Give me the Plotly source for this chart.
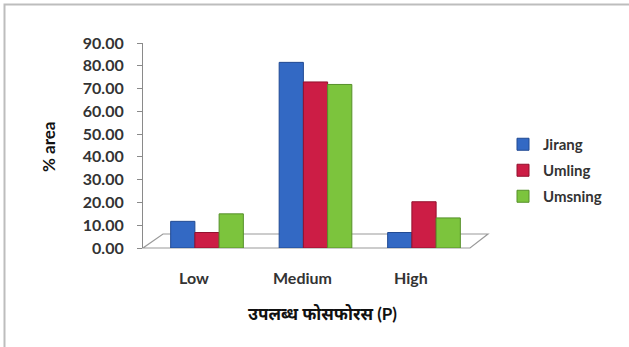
import plotly.graph_objects as go

# Available phosphorus classes and share of area (%) per site
categories = ["Low", "Medium", "High"]
jirang = [11.7, 81.5, 6.8]
umling = [6.8, 72.9, 20.3]
umsning = [15.0, 71.8, 13.2]

series = [
    ("Jirang", jirang, "#3369C4", "#214A93"),
    ("Umling", umling, "#CC1D45", "#93112E"),
    ("Umsning", umsning, "#7CC43D", "#56902A"),
]

y_ticks = [0, 10, 20, 30, 40, 50, 60, 70, 80, 90]
x_title = "उपलब्ध फोसफोरस (P)"
y_title = "% area"

FONT = "Lato, 'Noto Sans', 'DejaVu Sans', sans-serif"
TXT = "#333333"

fig = go.Figure()
for name, vals, fill, edge in series:
    fig.add_trace(go.Bar(
        name=name, x=categories, y=vals, legendgroup=name,
        marker=dict(color=fill, line=dict(color=edge, width=1)),
    ))

# plot box in pixels: x 143..488, y 43..248
W, H = 629, 347
L, R, T, B = 143, 488, 43, 248
pw, ph = R - L, B - T


def px(x):
    return (x - L) / pw


def py(y):
    return (B - y) / ph


shapes = [
    # floor of the chart
    dict(type="path", xref="paper", yref="paper", layer="below",
         path=f"M{px(143)},{py(248)} L{px(470)},{py(248)} L{px(488)},{py(234)} "
              f"L{px(163)},{py(234)} Z",
         line=dict(color="#9a9a9a", width=1.2), fillcolor="white"),
    # outer frame (left and top edges)
    dict(type="path", xref="paper", yref="paper",
         path=f"M{px(4.5)},{py(W)} L{px(4.5)},{py(4.5)} L{px(W + 5)},{py(4.5)}",
         line=dict(color="#bdbdbd", width=2)),
]

annotations = [
    dict(text=c, x=c, xref="x", y=py(277), yref="paper", showarrow=False,
         xanchor="center", yanchor="middle", xshift=-13,
         font=dict(family=FONT, size=16, color=TXT, weight="bold"))
    for c in categories
]
annotations += [
    dict(text=x_title, x=px(322), y=py(313), xref="paper", yref="paper",
         xanchor="center", yanchor="middle", showarrow=False,
         font=dict(family=FONT, size=17, color="#111", weight="bold")),
    dict(text=y_title, x=px(48), y=py(147), xref="paper", yref="paper",
         xanchor="center", yanchor="middle", showarrow=False, textangle=-90,
         font=dict(family=FONT, size=17, color="#111", weight="bold")),
]

fig.update_layout(
    width=W, height=H,
    margin=dict(l=L, r=W - R, t=T, b=H - B),
    paper_bgcolor="white", plot_bgcolor="rgba(0,0,0,0)",
    barmode="group", bargap=0.33, bargroupgap=0,
    font=dict(family=FONT, color=TXT),
    xaxis=dict(range=[-0.59, 2.59], showticklabels=False, showgrid=False,
               zeroline=False, showline=False, ticks=""),
    yaxis=dict(range=[0, 90], tickvals=y_ticks, tickformat=".2f",
               showgrid=False, zeroline=False, showline=True,
               linecolor="#8a8a8a", linewidth=1.2, ticks="outside",
               ticklen=5, tickcolor="#8a8a8a", ticklabelstandoff=10,
               tickfont=dict(family=FONT, size=16, color=TXT, weight="bold")),
    legend=dict(x=px(503), y=py(128), xanchor="left", yanchor="top",
                tracegroupgap=3.5, bgcolor="rgba(0,0,0,0)",
                font=dict(family=FONT, size=15, color=TXT, weight="bold")),
    shapes=shapes,
    annotations=annotations,
)

fig.write_html("out.html")
